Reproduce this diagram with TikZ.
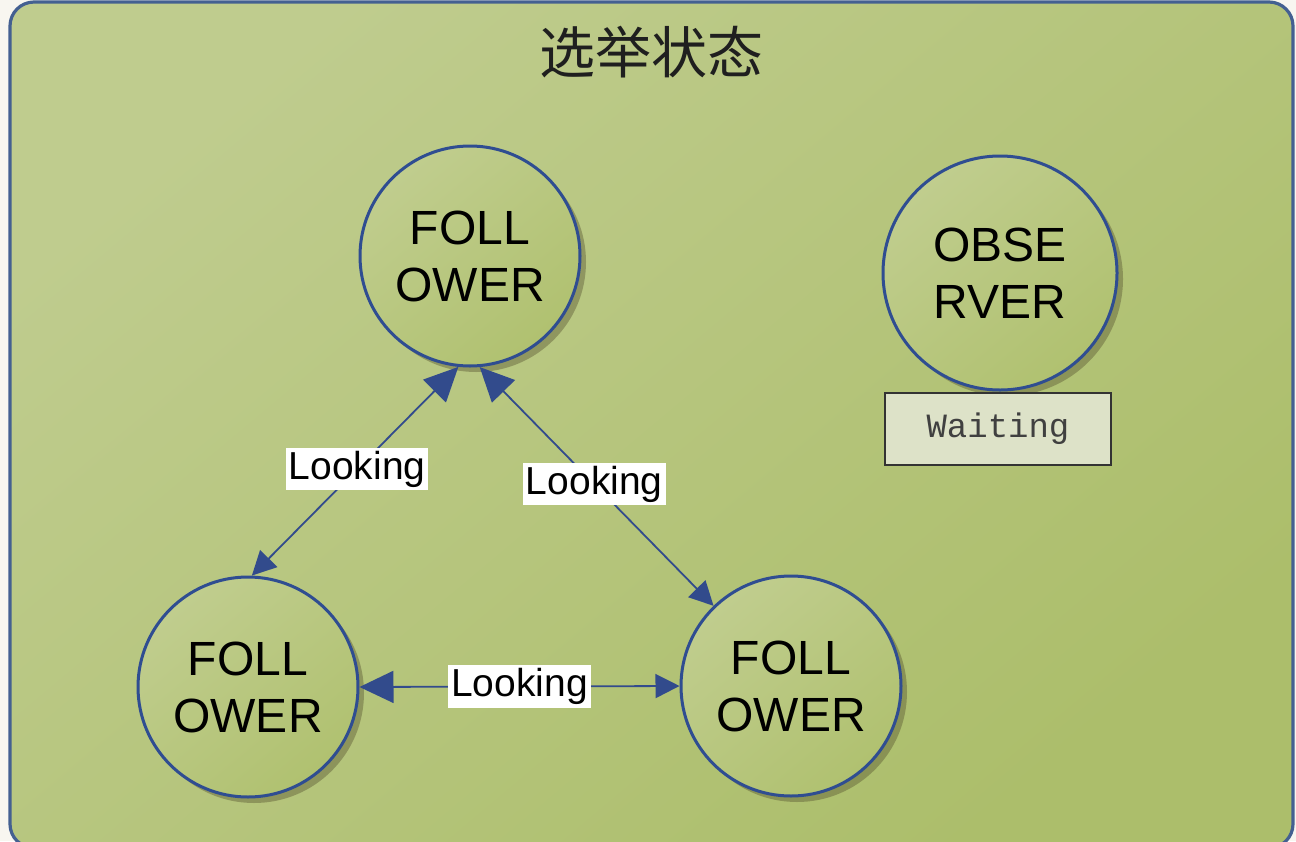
\documentclass[tikz,border=0pt]{standalone}
\usepackage{fontspec}
\setmainfont{Liberation Sans}
\newfontfamily\cjk{Noto Sans CJK SC}
\newfontfamily\typew{Liberation Mono}
\usetikzlibrary{arrows.meta,shadows}

\definecolor{pagebg}{RGB}{248,246,240}
\definecolor{panelA}{RGB}{191,204,142}
\definecolor{panelB}{RGB}{172,190,107}
\definecolor{panelline}{RGB}{68,96,145}
\definecolor{ballA}{RGB}{192,205,142}
\definecolor{ballB}{RGB}{176,193,112}
\definecolor{ballline}{RGB}{47,77,145}
\definecolor{linkcol}{RGB}{50,75,140}
\definecolor{waitfill}{RGB}{221,226,200}

\tikzset{
  state/.style={circle, draw=ballline, line width=1.5pt, minimum size=#1,
    top color=ballA, bottom color=ballB, shading angle=40,
    drop shadow={shadow xshift=3pt, shadow yshift=-3pt, fill=black!55!olive, opacity=0.4},
    align=center, font=\fontsize{24}{28.5}\selectfont, inner sep=0pt},
  state/.default=110pt,
  link/.style={draw=linkcol, line width=0.9pt,
    {Triangle[length=17pt,width=16pt]}-{Triangle[length=12pt,width=12pt]}},
  tag/.style={fill=white, inner sep=1.5pt, font=\fontsize{19.5}{21}\selectfont, pos=0.49},
}

\begin{document}
\begin{tikzpicture}[x=0.5pt, y=-0.5pt]
    \useasboundingbox (0,0) rectangle (1296,841);
    \fill[pagebg] (0,0) rectangle (1296,841);

    % 1. Panel with the title
    \begin{scope}
        \clip (0,0) rectangle (1296,841);
        \draw[panelline, line width=1.6pt, rounded corners=12pt,
              top color=panelA, bottom color=panelB, shading angle=40]
            (10,2) rectangle (1293,848);
    \end{scope}
    \node[text=black!88, font=\cjk\fontsize{28}{30}\selectfont] (title) at (651,52) {选举状态};

    % 2. The four servers
    \node[state] (fTop)   at (470,256) {FOLL\\OWER};
    \node[state] (fLeft)  at (248,687) {FOLL\\OWER};
    \node[state] (fRight) at (791,686) {FOLL\\OWER};
    \node[state=117pt] (obs) at (1000,273) {OBSE\\RVER};

    \node[draw=black!80, line width=1.3pt, fill=waitfill, minimum width=113pt, minimum height=36pt,
          text=black!75, font=\typew\fontsize{17}{18}\selectfont] (wait) at (998,429) {Waiting};

    % 3. Looking messages
    \draw[link] (fTop.-96) -- node[tag] {Looking} (fLeft.88);
    \draw[link] (fTop.-85) -- node[tag] {Looking} (fRight.134);
    \draw[link] (fLeft.east) -- node[tag, pos=0.5] {Looking} (fRight.west);
\end{tikzpicture}
\end{document}
